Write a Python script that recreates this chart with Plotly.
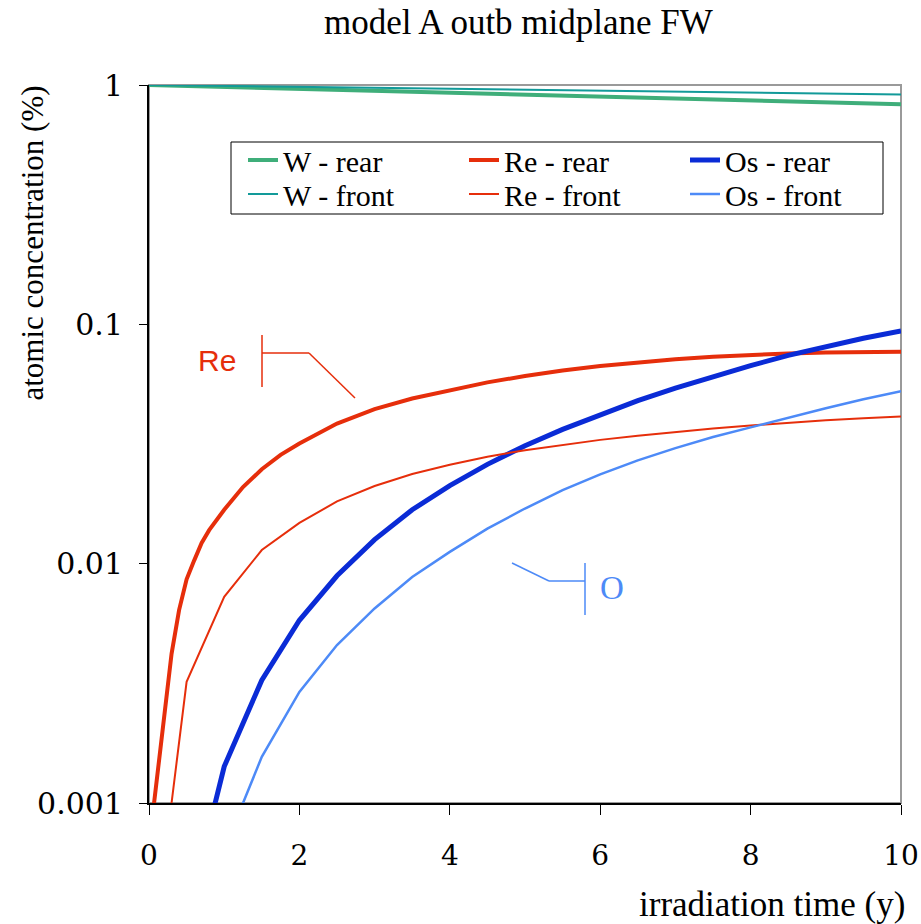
import plotly.graph_objects as go

# ---------------- data ----------------
t_w = [0, 1, 2, 3, 4, 5, 6, 7, 8, 9, 10]
w_rear = [1.000, 0.982, 0.964, 0.946, 0.929, 0.912, 0.895, 0.878, 0.862, 0.846, 0.831]
w_front = [1.000, 0.991, 0.982, 0.973, 0.964, 0.955, 0.946, 0.937, 0.929, 0.921, 0.913]

t_re_rear = [0, 0.1, 0.2, 0.3, 0.4, 0.5, 0.6, 0.7, 0.8, 0.9, 1.0, 1.25, 1.5, 1.75, 2.0,
             2.5, 3.0, 3.5, 4.0, 4.5, 5.0, 5.5, 6.0, 6.5, 7.0, 7.5, 8.0, 8.5, 9.0, 9.5, 10.0]
re_rear = [0.00066, 0.00123, 0.00235, 0.0042, 0.0064, 0.0086, 0.0103, 0.0122, 0.0138, 0.0153,
           0.0168, 0.0209, 0.0248, 0.0285, 0.0318, 0.0385, 0.0442, 0.0490, 0.0531, 0.0572,
           0.0608, 0.0641, 0.0669, 0.0694, 0.0715, 0.0732, 0.0746, 0.0756, 0.0763, 0.0766, 0.0768]

t_half = [0, 0.5, 1.0, 1.5, 2.0, 2.5, 3.0, 3.5, 4.0, 4.5, 5.0, 5.5, 6.0, 6.5, 7.0,
          7.5, 8.0, 8.5, 9.0, 9.5, 10.0]
re_front = [0.000174, 0.00321, 0.00727, 0.0114, 0.0148, 0.0182, 0.0211, 0.0237, 0.0259, 0.0280,
            0.0298, 0.0314, 0.0329, 0.0342, 0.0355, 0.0367, 0.0378, 0.0388, 0.0397, 0.0405, 0.0412]

t_os = [0.5, 1.0, 1.5, 2.0, 2.5, 3.0, 3.5, 4.0, 4.5, 5.0, 5.5, 6.0, 6.5, 7.0,
        7.5, 8.0, 8.5, 9.0, 9.5, 10.0]
os_rear = [0.00033, 0.00142, 0.00326, 0.0058, 0.0089, 0.0126, 0.0168, 0.0212, 0.0260, 0.0311,
           0.0364, 0.0420, 0.0480, 0.0541, 0.0605, 0.0672, 0.0742, 0.0810, 0.0875, 0.0938]
t_os_f = [1.0, 1.5, 2.0, 2.5, 3.0, 3.5, 4.0, 4.5, 5.0, 5.5, 6.0, 6.5, 7.0,
          7.5, 8.0, 8.5, 9.0, 9.5, 10.0]
os_front = [0.00064, 0.00156, 0.00291, 0.00457, 0.0065, 0.0088, 0.0112, 0.0140, 0.0170, 0.0203,
            0.0236, 0.0270, 0.0304, 0.0338, 0.0371, 0.0407, 0.0446, 0.0486, 0.0526]

y_tickvals = [0.001, 0.01, 0.1, 1]
y_ticktext = ["0.001", "0.01", "0.1", "1"]
x_tickvals = [0, 2, 4, 6, 8, 10]

# ---------------- style ----------------
C_WR = "#3fae7a"
C_WF = "#129a99"
C_RE = "#e62e0b"
C_OR = "#0a2bd6"
C_OF = "#4d8af7"
SERIF = "Liberation Serif"
TICKF = "DejaVu Serif"

fig = go.Figure()
fig.add_trace(go.Scatter(x=t_w, y=w_rear, mode="lines", name="W - rear",
                         line=dict(color=C_WR, width=4), legend="legend"))
fig.add_trace(go.Scatter(x=t_re_rear, y=re_rear, mode="lines", name="Re - rear",
                         line=dict(color=C_RE, width=4), legend="legend"))
fig.add_trace(go.Scatter(x=t_os, y=os_rear, mode="lines", name="Os - rear",
                         line=dict(color=C_OR, width=5), legend="legend"))
fig.add_trace(go.Scatter(x=t_w, y=w_front, mode="lines", name="W - front",
                         line=dict(color=C_WF, width=2), legend="legend2"))
fig.add_trace(go.Scatter(x=t_half, y=re_front, mode="lines", name="Re - front",
                         line=dict(color=C_RE, width=2), legend="legend2"))
fig.add_trace(go.Scatter(x=t_os_f, y=os_front, mode="lines", name="Os - front",
                         line=dict(color=C_OF, width=2.5), legend="legend2"))

L, R, T, B = 149, 20, 85, 121
W, H = 921, 924
PW, PH = W - L - R, H - T - B


def px(x):
    return (x - L) / PW


def py(y):
    return (H - B - y) / PH


shapes = [
    dict(type="rect", xref="paper", yref="paper", x0=0, y0=0, x1=1, y1=1,
         line=dict(color="#9a9a9a", width=2), layer="below"),
    # legend frame
    dict(type="rect", xref="paper", yref="paper", x0=px(231), y0=py(214), x1=px(883), y1=py(142),
         line=dict(color="black", width=1), fillcolor="white", layer="below"),
    # Re callout
    dict(type="line", xref="paper", yref="paper", x0=px(262), y0=py(335), x1=px(262), y1=py(387),
         line=dict(color=C_RE, width=1.5)),
    dict(type="line", xref="paper", yref="paper", x0=px(262), y0=py(353), x1=px(309), y1=py(353),
         line=dict(color=C_RE, width=1.5)),
    dict(type="line", xref="paper", yref="paper", x0=px(309), y0=py(353), x1=px(355), y1=py(398),
         line=dict(color=C_RE, width=1.5)),
    # O callout
    dict(type="line", xref="paper", yref="paper", x0=px(585), y0=py(563), x1=px(585), y1=py(615),
         line=dict(color=C_OF, width=1.5)),
    dict(type="line", xref="paper", yref="paper", x0=px(549), y0=py(581), x1=px(585), y1=py(581),
         line=dict(color=C_OF, width=1.5)),
    dict(type="line", xref="paper", yref="paper", x0=px(512), y0=py(563), x1=px(549), y1=py(581),
         line=dict(color=C_OF, width=1.5)),
]

annotations = [
    dict(text="Re", xref="paper", yref="paper", x=px(217), y=py(360), showarrow=False,
         font=dict(family="Liberation Sans", size=30, color=C_RE), xanchor="center", yanchor="middle"),
    dict(text="O", xref="paper", yref="paper", x=px(612), y=py(588), showarrow=False,
         font=dict(family=SERIF, size=33, color=C_OF), xanchor="center", yanchor="middle"),
    dict(text="irradiation time (y)", xref="paper", yref="paper", x=px(907), y=py(904),
         showarrow=False, font=dict(family=SERIF, size=35, color="black"),
         xanchor="right", yanchor="middle"),
    dict(text="atomic concentration (%)", xref="paper", yref="paper", x=px(32), y=py(84),
         showarrow=False, textangle=-90, font=dict(family=SERIF, size=31, color="black"),
         xanchor="center", yanchor="top"),
    dict(text="model A outb midplane FW", xref="paper", yref="paper", x=px(518), y=py(23),
         showarrow=False, font=dict(family=SERIF, size=35, color="black"),
         xanchor="center", yanchor="middle"),
]

leg_common = dict(orientation="h", xanchor="left", yanchor="middle",
                  bgcolor="rgba(0,0,0,0)", borderwidth=0,
                  font=dict(family=SERIF, size=30, color="black"),
                  entrywidth=176, entrywidthmode="pixels", itemwidth=30)

fig.update_layout(
    width=W, height=H,
    margin=dict(l=L, r=R, t=T, b=B, pad=0, autoexpand=False),
    paper_bgcolor="white", plot_bgcolor="white",
    shapes=shapes, annotations=annotations,
    showlegend=True,
    legend=dict(x=px(243), y=py(160), **leg_common),
    legend2=dict(x=px(243), y=py(194), **leg_common),
    xaxis=dict(range=[0, 10], tickvals=x_tickvals, ticks="outside", ticklen=10,
               tickcolor="black", showline=True, linecolor="black", linewidth=2,
               showgrid=False, zeroline=False, automargin=False,
               tickfont=dict(family=TICKF, size=28, color="black"), ticklabelstandoff=16),
    yaxis=dict(type="log", range=[-3, 0], tickvals=y_tickvals, ticktext=y_ticktext,
               ticks="outside", ticklen=8, tickcolor="black", showline=True,
               linecolor="black", linewidth=2, showgrid=False, zeroline=False, automargin=False,
               tickfont=dict(family=TICKF, size=30, color="black"), ticklabelstandoff=10),
)

fig.write_html("out.html")
